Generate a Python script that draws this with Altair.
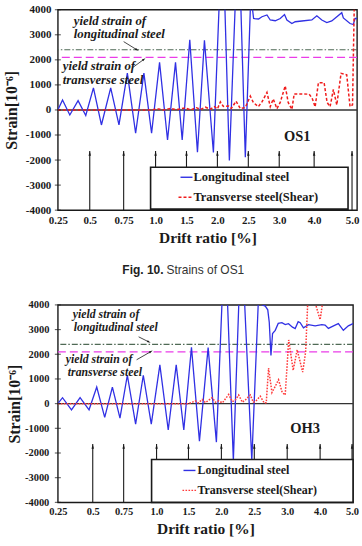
import math
import altair as alt
import pandas as pd

SERIF = "Liberation Serif"
SANS = "Liberation Sans"
BLUE = "#3030e4"
RED = "#f01c1c"
INK = "#1a1a1a"
YIELD_L_COLOR = "#4f6a55"
YIELD_T_COLOR = "#ea3ce8"

# Drift-ratio stages printed under each panel
drift_labels = ["0.25", "0.5", "0.75", "1.0", "1.5", "2.0", "2.5", "3.0", "4.0", "5.0"]
strain_ticks = [-4000, -3000, -2000, -1000, 0, 1000, 2000, 3000, 4000]
yield_long = 2400
yield_trans = 2100
stage_arrow_tip = -1760

# ---- OS1 : load step vs. strain ----
os1_stage_steps = [0, 32, 66, 98, 129, 160, 191, 222, 257, 295]
os1_long_step = [0, 4.7, 12, 20.3, 28, 35.7, 43.7, 53, 61.3, 69.7, 78, 86.3, 94, 102, 110,
                 118, 124.7, 132.3, 140, 147, 156, 165, 172, 181, 188, 193.5, 196.3, 201.3,
                 204.7, 209.7, 213, 218, 223, 227.3, 229.7, 234.7, 238, 244.7, 254.7, 259.7,
                 264.7, 269.7, 274.7, 284.7, 286.3, 293, 296.3, 298, 300]
os1_long_strain = [0, 395, -200, 370, -220, 880, -600, 880, -600, 1470, -930, 1470, -930, 1900,
                   -1200, 1900, -1200, 2800, -1690, 2780, -1700, 7500, -2020, 7500, -1890, 4600,
                   3650, 3630, 3720, 3790, 3590, 3560, 3650, 3810, 3590, 3450, 3520, 3550, 3590,
                   3760, 3590, 3490, 3550, 3880, 3670, 3450, 3410, 3650, 3650]
os1_trans_step = [0, 93, 101, 106, 113, 118, 128, 133, 139, 143, 148, 153, 157, 160, 163, 166,
                  171, 174, 178.7, 183, 188, 193, 196, 201, 204.7, 209.7, 213, 216, 219.7, 223,
                  228, 231, 234.7, 237, 252, 255, 258, 261.3, 267, 270, 273, 276.3, 279.7, 284,
                  289.7, 293, 295.5, 297.3, 300]
os1_trans_strain = [0, 0, 40, 0, 60, 10, 80, 0, 90, 20, 110, 30, 130, 40, 320, 140, 160, 60,
                    350, 50, 100, 550, 300, 130, 320, 700, 130, 440, 50, 300, 960, 300, 20, 640,
                    630, 470, 120, 1090, 1090, 300, 130, 820, 200, 1460, 1400, 130, 200, 4300,
                    4300]

# ---- OH3 : load step vs. strain ----
oh3_stage_steps = [0, 35, 66, 99, 131, 164, 197, 230, 263, 295]
oh3_long_step = [0, 4.7, 13.7, 22.3, 31.3, 39, 47, 54.7, 62.3, 69.7, 78, 85.7, 93.7, 102.3,
                 110.7, 118.7, 126.3, 134, 142, 150.7, 159, 167.5, 176, 184, 194.5, 201, 205,
                 208, 210.5, 212, 213.7, 215.3, 218, 221, 224.7, 228, 231.3, 235.3, 238, 241,
                 243, 246.3, 251.3, 258, 264.7, 268, 271.3, 278, 281.3, 286.3, 291.3, 296]
oh3_long_strain = [0, 240, -250, 240, -250, 670, -560, 670, -590, 1150, -830, 1150, -830, 1570,
                   -1070, 1570, -1070, 2280, -1520, 2270, -1560, 7000, -2300, 7000, -2300, 4100,
                   4000, 3950, 3800, 3300, 1950, 2840, 2970, 3250, 3280, 3200, 3240, 3100, 3040,
                   3320, 3280, 3070, 3200, 3150, 3200, 3180, 3050, 3180, 3240, 2970, 3150, 3240]
oh3_trans_step = [0, 131, 135, 138, 141, 144.7, 148, 154.7, 158, 161.3, 165, 171.3, 175, 178,
                  181.3, 185, 188, 193, 196, 198, 203, 207, 209, 211.3, 214.7, 218, 221.3, 225,
                  228, 231.5, 236, 240, 245.5, 248.5, 251.5, 255, 263, 267, 270]
oh3_trans_strain = [0, 0, 60, 110, 30, 170, 40, 240, 60, 110, 30, 370, 80, 150, 350, 60, 150,
                    350, 60, 80, 300, 20, 40, 1440, 450, 700, 970, 450, 350, 2580, 1350, 2180,
                    1280, 2100, 5000, 4500, 3400, 4500, 5200]


def arrow(p0, p1, head_size=22, width=0.8):
    """Thin annotation arrow from p0 to p1 (pixel offsets in the plot area)."""
    one = pd.DataFrame({"k": [0]})
    shaft = alt.Chart(one).mark_rule(color=INK, strokeWidth=width).encode(
        x=alt.value(p0[0]), y=alt.value(p0[1]), x2=alt.value(p1[0]), y2=alt.value(p1[1]))
    ang = math.degrees(math.atan2(p1[0] - p0[0], -(p1[1] - p0[1]))) % 360
    head = alt.Chart(one).mark_point(
        shape="M0,-1L0.45,0.6L-0.45,0.6Z", filled=True, color=INK, opacity=1,
        size=head_size, angle=ang).encode(x=alt.value(p1[0]), y=alt.value(p1[1]))
    return [shaft, head]


def panel(width, height, stage_steps, long_step, long_strain, trans_step, trans_strain,
          red_color, red_dash, fs, ann_fs, legend_fs, texts, arrows, box, rows, name,
          name_pos, y_title_pad, y_label_pad, extra=()):
    xscale = alt.Scale(domain=[0, width], nice=False, zero=False)
    yscale = alt.Scale(domain=[-4000, 4000], nice=False, zero=False)
    label_expr = ("[" + ",".join(f"'{s}'" for s in drift_labels) + "][indexof(["
                  + ",".join(str(s) for s in stage_steps) + "], datum.value)]")
    x_enc = alt.X("step:Q", scale=xscale, axis=alt.Axis(
        values=stage_steps, labelExpr=label_expr, title="Drift ratio [%]",
        labelFontSize=fs, labelFontWeight="bold", labelFlush=False, labelPadding=4,
        titlePadding=5, titleFontSize=15.5))
    y_enc = alt.Y("strain:Q", scale=yscale, axis=alt.Axis(
        values=strain_ticks, labelExpr="'' + datum.value", title="Strain[10⁻⁶]",
        labelFontSize=fs, labelFontWeight="bold", labelFlush=False,
        labelPadding=y_label_pad, titlePadding=y_title_pad, titleFontSize=16))

    zero = alt.Chart(pd.DataFrame({"strain": [0]})).mark_rule(
        color="#333333", strokeWidth=1.4).encode(y=y_enc)
    ylong = alt.Chart(pd.DataFrame({"strain": [yield_long]})).mark_rule(
        color=YIELD_L_COLOR, strokeWidth=1.1, strokeDash=[6, 2, 1.5, 2]).encode(y=y_enc)
    ytrans = alt.Chart(pd.DataFrame({"strain": [yield_trans]})).mark_rule(
        color=YIELD_T_COLOR, strokeWidth=1.3, strokeDash=[8, 4]).encode(y=y_enc)

    long_df = pd.DataFrame({"step": long_step, "strain": long_strain,
                            "i": range(len(long_step))})
    trans_df = pd.DataFrame({"step": trans_step, "strain": trans_strain,
                             "i": range(len(trans_step))})
    blue = alt.Chart(long_df).mark_line(color=BLUE, strokeWidth=1.3, clip=True).encode(
        x=x_enc, y=y_enc, order="i:Q")
    red = alt.Chart(trans_df).mark_line(color=red_color, strokeWidth=1.5,
                                        strokeDash=red_dash, clip=True).encode(
        x=x_enc, y=y_enc, order="i:Q")

    shafts_df = pd.DataFrame({"step": stage_steps[1:], "strain": -4000,
                              "top": stage_arrow_tip + 120})
    heads_df = pd.DataFrame({"step": stage_steps[1:], "strain": stage_arrow_tip})
    shafts = alt.Chart(shafts_df).mark_rule(color=INK, strokeWidth=1.1).encode(
        x=x_enc, y=y_enc, y2="top:Q")
    heads = alt.Chart(heads_df).mark_point(
        shape="M0,-1L0.45,0.6L-0.45,0.6Z", filled=True, color=INK, opacity=1, size=30
    ).encode(x=x_enc, y=y_enc)

    ticks = alt.Chart(pd.DataFrame({"strain": strain_ticks})).mark_tick(
        orient="horizontal", size=6, thickness=1.1, color=INK).encode(
        x=alt.value(0), y=y_enc)

    one = pd.DataFrame({"k": [0]})
    layers = [zero, ylong, ytrans, blue, red, shafts, heads, ticks]

    legend_box = alt.Chart(one).mark_rect(fill="white", stroke=INK, strokeWidth=1.6).encode(
        x=alt.value(box[0]), y=alt.value(box[1]), x2=alt.value(box[2]), y2=alt.value(box[3]))
    layers.append(legend_box)
    for (sx0, sx1, ty, tx, label, color, dash) in rows:
        mark_kw = dict(color=color, strokeWidth=1.4)
        if dash:
            mark_kw["strokeDash"] = dash
        layers.append(alt.Chart(one).mark_rule(**mark_kw).encode(
            x=alt.value(sx0), x2=alt.value(sx1), y=alt.value(ty)))
        layers.append(alt.Chart(one).mark_text(
            text=label, font=SERIF, fontWeight="bold", fontSize=legend_fs, color=INK,
            align="left", baseline="middle").encode(x=alt.value(tx), y=alt.value(ty)))

    for (label, tx, ty) in texts:
        layers.append(alt.Chart(one).mark_text(
            text=label, font=SERIF, fontWeight="bold", fontStyle="italic", fontSize=ann_fs,
            color=INK, align="left", baseline="middle").encode(
            x=alt.value(tx), y=alt.value(ty)))
    for p0, p1 in arrows:
        layers.extend(arrow(p0, p1))

    layers.append(alt.Chart(one).mark_text(
        text=name, font=SERIF, fontWeight="bold", fontSize=14.5, color=INK,
        align="center", baseline="middle").encode(
        x=alt.value(name_pos[0]), y=alt.value(name_pos[1])))
    layers.extend(extra)

    return alt.layer(*layers).properties(width=width, height=height)


one = pd.DataFrame({"k": [0]})
caption = [
    alt.Chart(one).mark_text(text="Fig. 10.", font=SANS, fontWeight="bold", fontSize=12,
                             color="#222222", align="right", baseline="middle").encode(
        x=alt.value(106), y=alt.value(261)),
    alt.Chart(one).mark_text(text="Strains of OS1", font=SANS, fontSize=12,
                             color="#333333", align="left", baseline="middle").encode(
        x=alt.value(109), y=alt.value(261)),
]

top = panel(
    300, 201, os1_stage_steps, os1_long_step, os1_long_strain, os1_trans_step,
    os1_trans_strain, RED, [3, 2], 11, 12.8, 12.5,
    texts=[("yield strain of", 16, 11), ("longitudinal steel", 16, 24),
           ("yield strain of", 5, 56), ("transverse steel", 5, 70)],
    arrows=[((66, 32), (79, 40)), ((75, 58), (86, 50))],
    box=(93, 158, 291, 200),
    rows=[(123, 135, 168, 136, "Longitudinal steel", BLUE, None),
          (121, 136, 188, 136, "Transverse steel(Shear)", RED, [3, 2])],
    name="OS1", name_pos=(240, 128), y_title_pad=6, y_label_pad=7, extra=caption)

bottom = panel(
    296, 198, oh3_stage_steps, oh3_long_step, oh3_long_strain, oh3_trans_step,
    oh3_trans_strain, "#ff3a3a", [1.6, 1.4], 10.5, 11.8, 12,
    texts=[("yield strain of", 15, 9), ("longitudinal steel", 16, 22),
           ("yield strain of", 8, 54.5), ("transverse steel", 10, 67.5)],
    arrows=[((81, 32), (91, 37)), ((79, 55), (93, 47))],
    box=(94, 155, 296, 198),
    rows=[(126, 138, 166, 140, "Longitudinal steel", BLUE, None),
          (125, 140, 186, 140, "Transverse steel(Shear)", "#ff3a3a", [1.6, 1.4])],
    name="OH3", name_pos=(248, 124), y_title_pad=2, y_label_pad=9)

chart = alt.concat(top, bottom, columns=1, align="none", spacing=22).properties(
    padding={"left": 2, "top": 2, "right": 2, "bottom": 2}, background="white"
).configure_view(stroke=INK, strokeWidth=1.4).configure_axis(
    domain=False, ticks=False, grid=False, labelFont=SERIF, labelFontWeight="bold",
    labelColor=INK, titleFont=SERIF, titleFontWeight="bold", titleColor=INK
)

chart.save("out.html", embed_options={"renderer": "svg", "actions": False})
